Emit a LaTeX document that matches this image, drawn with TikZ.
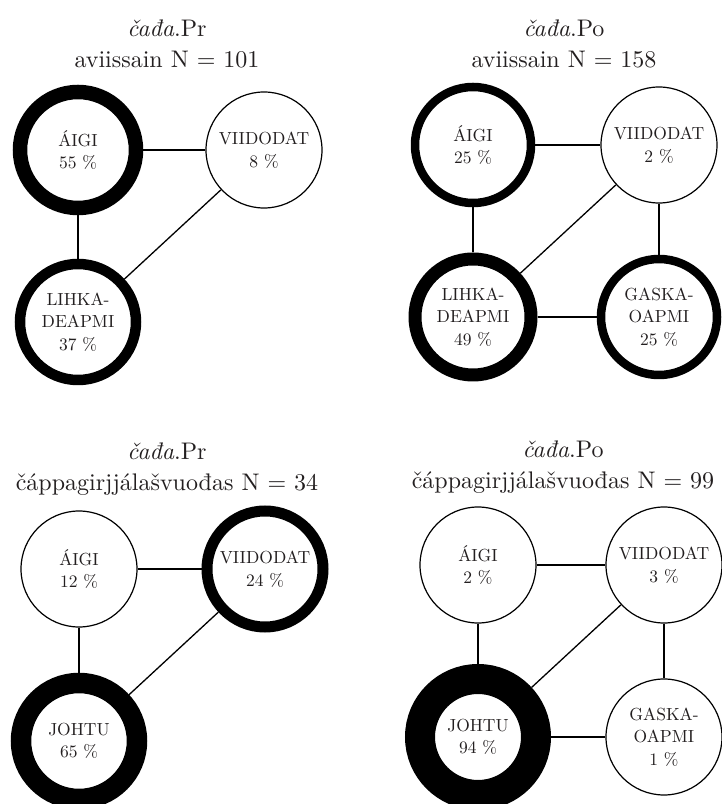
\documentclass[tikz,border=0pt]{standalone}
\usepackage{fontspec}
\setmainfont{lmroman10}[Extension=.otf,UprightFont=*-regular,ItalicFont=*-italic]
\usepackage{tikz}
\usetikzlibrary{positioning}
\definecolor{ink}{RGB}{35,31,32}

\begin{document}
\begin{tikzpicture}[x=1pt,y=1pt,node distance=172pt and 186pt,on grid,
	cat/.style={circle,draw,fill=white,minimum size=116pt,inner sep=0pt,line width=#1,
		align=center,text=ink,font=\fontsize{17.5}{22.5}\selectfont},
	cat/.default=1.2pt,
	head/.style={align=center,text=ink,font=\fontsize{24}{31}\selectfont},
	link/.style={line width=1.3pt}]
	\useasboundingbox (0,0) rectangle (722,804);
	% aviissain, Pr
	\node[head] (h_1) at (167,760) {\textit{čađa}.Pr\\aviissain N = 101};
	\node[cat=14.5pt] (a_1) at (78,654) {ÁIGI\\55 \%};
	\node[cat] (v_1) [right=of a_1] {VIIDODAT\\8 \%};
	\node[cat=10.5pt] (l_1) [below=of a_1] {LIHKA-\\DEAPMI\\37 \%};
	\path[link]
	(a_1)
	edge (v_1)
	edge (l_1)
	(v_1)
	edge (l_1);
	% aviissain, Po
	\node[head] (h_2) at (564,760) {\textit{čađa}.Po\\aviissain N = 158};
	\node[cat=8.5pt] (a_2) at (473,659) {ÁIGI\\25 \%};
	\node[cat] (v_2) [right=of a_2] {VIIDODAT\\2 \%};
	\node[cat=13pt] (l_2) [below=of a_2] {LIHKA-\\DEAPMI\\49 \%};
	\node[cat=8.5pt] (g_2) [right=of l_2] {GASKA-\\OAPMI\\25 \%};
	\path[link]
	(a_2)
	edge (v_2)
	edge (l_2)
	(v_2)
	edge (l_2)
	edge (g_2)
	(l_2)
	edge (g_2);
	% cappagirjjalasvuodas, Pr
	\node[head] (h_3) at (167,335) {\textit{čađa}.Pr\\čáppagirjjálašvuođas N = 34};
	\node[cat] (a_3) at (79,235) {ÁIGI\\12 \%};
	\node[cat=11pt] (v_3) [right=of a_3] {VIIDODAT\\24 \%};
	\node[cat=20.5pt] (j_3) [below=of a_3] {JOHTU\\65 \%};
	\path[link]
	(a_3)
	edge (v_3)
	edge (j_3)
	(v_3)
	edge (j_3);
	% cappagirjjalasvuodas, Po
	\node[head] (h_4) at (563,337) {\textit{čađa}.Po\\čáppagirjjálašvuođas N = 99};
	\node[cat] (a_4) at (478,239) {ÁIGI\\2 \%};
	\node[cat] (v_4) [right=of a_4] {VIIDODAT\\3 \%};
	\node[cat=30pt] (j_4) [below=of a_4] {JOHTU\\94 \%};
	\node[cat] (g_4) [right=of j_4] {GASKA-\\OAPMI\\1 \%};
	\path[link]
	(a_4)
	edge (v_4)
	edge (j_4)
	(v_4)
	edge (j_4)
	edge (g_4)
	(j_4)
	edge (g_4);
\end{tikzpicture}
\end{document}
